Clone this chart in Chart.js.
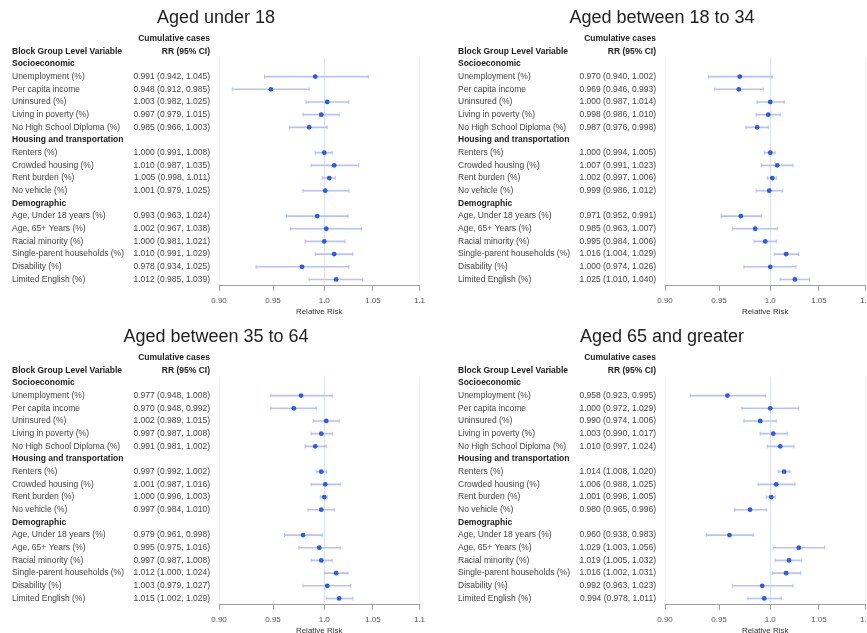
<!DOCTYPE html>
<html>
<head>
<meta charset="utf-8">
<script src="https://cdn.jsdelivr.net/npm/chart.js@4.4.1/dist/chart.umd.min.js"></script>
<style>
  html, body { margin: 0; padding: 0; background: #fff; width: 867px; height: 633px; overflow: hidden; }
  canvas { position: absolute; }
</style>
</head>
<body>
<canvas id="p1" width="430" height="317" style="left:0;top:0"></canvas>
<canvas id="p2" width="430" height="317" style="left:446px;top:0"></canvas>
<canvas id="p3" width="430" height="317" style="left:0;top:319px"></canvas>
<canvas id="p4" width="430" height="317" style="left:446px;top:319px"></canvas>
<script>
// row labels
const groups = ['Socioeconomic', 'Housing and transportation', 'Demographic'];
const groupSizes = [5, 4, 6];
const variables = [
  'Unemployment (%)', 'Per capita income', 'Uninsured (%)', 'Living in poverty (%)', 'No High School Diploma (%)',
  'Renters (%)', 'Crowded housing (%)', 'Rent burden (%)', 'No vehicle (%)',
  'Age, Under 18 years (%)', 'Age, 65+ Years (%)', 'Racial minority (%)', 'Single-parent households (%)',
  'Disability (%)', 'Limited English (%)'
];
const headerTop = 'Cumulative cases';
const headerLeft = 'Block Group Level Variable';
const headerRight = 'RR (95% CI)';
const axisTitle = 'Relative Risk';
const tickValues = [0.9, 0.95, 1.0, 1.05, 1.1];
const tickLabels = ['0.90', '0.95', '1.0', '1.05', '1.1'];
const gridValues = [0.9, 1.0, 1.1];

// Aged under 18
const rrUnder18   = [0.991, 0.948, 1.003, 0.997, 0.985, 1.000, 1.010, 1.005, 1.001, 0.993, 1.002, 1.000, 1.010, 0.978, 1.012];
const lowUnder18  = [0.942, 0.912, 0.982, 0.979, 0.966, 0.991, 0.987, 0.998, 0.979, 0.963, 0.967, 0.981, 0.991, 0.934, 0.985];
const highUnder18 = [1.045, 0.985, 1.025, 1.015, 1.003, 1.008, 1.035, 1.011, 1.025, 1.024, 1.038, 1.021, 1.029, 1.025, 1.039];

// Aged between 18 to 34
const rr18to34   = [0.970, 0.969, 1.000, 0.998, 0.987, 1.000, 1.007, 1.002, 0.999, 0.971, 0.985, 0.995, 1.016, 1.000, 1.025];
const low18to34  = [0.940, 0.946, 0.987, 0.986, 0.976, 0.994, 0.991, 0.997, 0.986, 0.952, 0.963, 0.984, 1.004, 0.974, 1.010];
const high18to34 = [1.002, 0.993, 1.014, 1.010, 0.998, 1.005, 1.023, 1.006, 1.012, 0.991, 1.007, 1.006, 1.029, 1.026, 1.040];

// Aged between 35 to 64
const rr35to64   = [0.977, 0.970, 1.002, 0.997, 0.991, 0.997, 1.001, 1.000, 0.997, 0.979, 0.995, 0.997, 1.012, 1.003, 1.015];
const low35to64  = [0.948, 0.948, 0.989, 0.987, 0.981, 0.992, 0.987, 0.996, 0.984, 0.961, 0.975, 0.987, 1.000, 0.979, 1.002];
const high35to64 = [1.008, 0.992, 1.015, 1.008, 1.002, 1.002, 1.016, 1.003, 1.010, 0.998, 1.016, 1.008, 1.024, 1.027, 1.029];

// Aged 65 and greater
const rr65plus   = [0.958, 1.000, 0.990, 1.003, 1.010, 1.014, 1.006, 1.001, 0.980, 0.960, 1.029, 1.019, 1.016, 0.992, 0.994];
const low65plus  = [0.923, 0.972, 0.974, 0.990, 0.997, 1.008, 0.988, 0.996, 0.965, 0.938, 1.003, 1.005, 1.002, 0.963, 0.978];
const high65plus = [0.995, 1.029, 1.006, 1.017, 1.024, 1.020, 1.025, 1.005, 0.996, 0.983, 1.056, 1.032, 1.031, 1.023, 1.011];

const family = "'Liberation Sans', Arial, Helvetica, sans-serif";
const pointColor = '#2d5be3';
const ciColor = '#b9c2f1';

// rows = group headers + variables
const rows = [];
const varIndex = [];
let k = 0;
groups.forEach((g, gi) => {
  rows.push(g);
  varIndex.push(-1);
  for (let j = 0; j < groupSizes[gi]; j++) {
    rows.push(variables[k]);
    varIndex.push(k);
    k++;
  }
});

function fmt(rr, lo, hi, j) {
  return rr[j].toFixed(3) + ' (' + lo[j].toFixed(3) + ', ' + hi[j].toFixed(3) + ')';
}

// draws the RR column and the table headers next to the y ticks
function tablePlugin(rr, lo, hi) {
  return {
    id: 'rrTable',
    afterDraw(chart) {
      const ctx = chart.ctx;
      const y = chart.scales.y;
      const y0 = y.getPixelForValue(0);
      const h = y.getPixelForValue(1) - y0;
      const xRight = chart.chartArea.left - 9;
      ctx.save();
      ctx.textBaseline = 'middle';
      ctx.font = 'bold 8.5px ' + family;
      ctx.fillStyle = '#222';
      ctx.textAlign = 'right';
      ctx.fillText(headerTop, xRight, y0 - 2 * h);
      ctx.fillText(headerRight, xRight, y0 - h);
      ctx.textAlign = 'left';
      ctx.fillText(headerLeft, 12, y0 - h);
      ctx.font = '8.5px ' + family;
      ctx.fillStyle = '#444';
      ctx.textAlign = 'right';
      rows.forEach((r, i) => {
        const j = varIndex[i];
        if (j < 0) return;
        ctx.fillText(fmt(rr, lo, hi, j), xRight, y.getPixelForValue(i));
      });
      ctx.restore();
    }
  };
}

function makeChart(id, title, rr, lo, hi) {
  return new Chart(document.getElementById(id), {
    type: 'scatter',
    data: {
      datasets: [
        {
          data: variables.map((v, j) => ({ x: rr[j], y: v })),
          backgroundColor: pointColor,
          borderWidth: 0,
          pointRadius: 2.4,
          order: 0
        },
        {
          data: variables.flatMap((v, j) => [{ x: lo[j], y: v }, { x: hi[j], y: v }]),
          pointStyle: 'line',
          rotation: 90,
          pointRadius: 2,
          borderColor: ciColor,
          borderWidth: 1,
          order: 1
        },
        {
          type: 'bar',
          indexAxis: 'y',
          data: rows.map((r, i) => varIndex[i] < 0 ? null : [lo[varIndex[i]], hi[varIndex[i]]]),
          backgroundColor: ciColor,
          borderWidth: 0,
          barThickness: 1,
          order: 2
        }
      ]
    },
    options: {
      responsive: false,
      animation: false,
      layout: { padding: { left: 12, right: 10, top: 0, bottom: 0 } },
      plugins: {
        legend: { display: false },
        tooltip: { enabled: false },
        title: {
          display: true,
          text: title,
          color: '#222',
          font: { size: 18, weight: 'normal', family: family },
          padding: { top: 7, bottom: 29 }
        }
      },
      scales: {
        x: {
          type: 'logarithmic',
          min: 0.9,
          max: 1.1,
          afterBuildTicks: s => { s.ticks = tickValues.map(v => ({ value: v })); },
          ticks: {
            autoSkip: false,
            maxRotation: 0,
            padding: 5,
            color: '#555',
            font: { size: 8, family: family },
            callback: (v, i) => tickLabels[i]
          },
          grid: {
            color: c => {
              if (!c.tick || !gridValues.includes(c.tick.value)) return 'rgba(0,0,0,0)';
              return c.tick.value === 1 ? '#dde1f4' : '#eff1fa';
            },
            tickColor: '#a0a0a0',
            tickLength: 5
          },
          border: { display: true, color: '#a0a0a0' },
          title: {
            display: true,
            text: axisTitle,
            color: '#333',
            font: { size: 8, family: family },
            padding: { top: -3, bottom: 0 }
          }
        },
        y: {
          type: 'category',
          labels: rows,
          offset: true,
          grid: { display: false },
          border: { display: false },
          ticks: {
            autoSkip: false,
            crossAlign: 'far',
            padding: 0,
            font: c => ({ size: 8.5, family: family, weight: varIndex[c.index] < 0 ? 'bold' : 'normal' }),
            color: c => varIndex[c.index] < 0 ? '#222' : '#444'
          },
          afterFit: s => { s.width = 207; }
        }
      }
    },
    plugins: [tablePlugin(rr, lo, hi)]
  });
}

makeChart('p1', 'Aged under 18', rrUnder18, lowUnder18, highUnder18);
makeChart('p2', 'Aged between 18 to 34', rr18to34, low18to34, high18to34);
makeChart('p3', 'Aged between 35 to 64', rr35to64, low35to64, high35to64);
makeChart('p4', 'Aged 65 and greater', rr65plus, low65plus, high65plus);
</script>
</body>
</html>
